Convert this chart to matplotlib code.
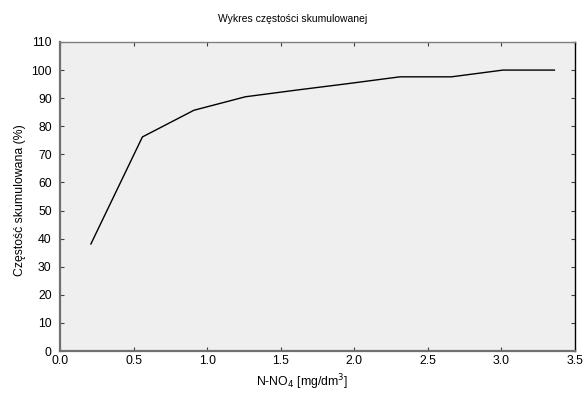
import matplotlib
matplotlib.use("Agg")
import matplotlib.pyplot as plt

# Cumulative frequency of N-NO4 concentration classes
stezenie = [0.21, 0.56, 0.91, 1.26, 1.61, 1.96, 2.31, 2.66, 3.01, 3.36]
czestosc_skum = [38.1, 76.2, 85.7, 90.5, 92.9, 95.2, 97.6, 97.6, 100.0, 100.0]
x_ticks = [0.0, 0.5, 1.0, 1.5, 2.0, 2.5, 3.0, 3.5]
y_ticks = [0, 10, 20, 30, 40, 50, 60, 70, 80, 90, 100, 110]

plt.rcParams['font.family'] = ['Liberation Sans', 'DejaVu Sans']

W, H = 586, 399
fig = plt.figure(figsize=(W / 100, H / 100), dpi=100)
ax = fig.add_axes([60 / W, 1 - 351 / H, 515 / W, 309 / H])
ax.set_facecolor('#efefef')

ax.plot(stezenie, czestosc_skum, color='black', lw=1.0)

ax.set_xlim(0, 3.5)
ax.set_ylim(0, 110)
ax.set_xticks(x_ticks)
ax.set_xticklabels([f"{v:.1f}" for v in x_ticks])
ax.set_yticks(y_ticks)

ax.tick_params(direction='in', length=3, width=0.8, labelsize=8.8,
               top=True, right=True, color='#404040')
ax.tick_params(axis='y', pad=6)
ax.tick_params(axis='x', pad=3)

for side in ['left', 'bottom']:
    ax.spines[side].set_color('#707070')
    ax.spines[side].set_linewidth(1.6)
ax.spines['top'].set_color('#808080')
ax.spines['top'].set_linewidth(1.0)
ax.spines['right'].set_color('black')
ax.spines['right'].set_linewidth(1.0)

fig.text(0.5, 1 - 19 / H, 'Wykres częstości skumulowanej', fontsize=7.5,
         ha='center', va='center')
fig.text(302 / W, 1 - 382 / H, 'N-NO$_4$ [mg/dm$^3$]', fontsize=8.8,
         ha='center', va='center')
fig.text(20 / W, 1 - 200 / H, 'Częstość skumulowana (%)', fontsize=8.8,
         ha='center', va='center', rotation=90)

fig.savefig('out.png', dpi=100, facecolor='white')
